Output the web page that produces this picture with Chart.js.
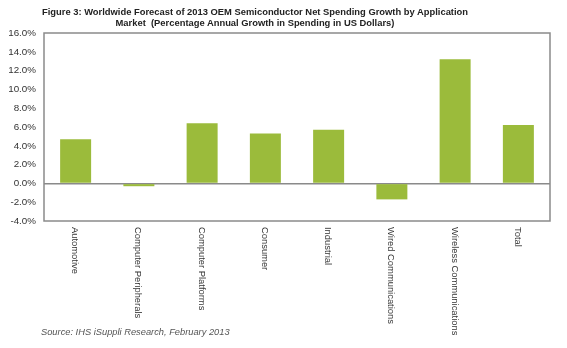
<!DOCTYPE html>
<html>
<head>
<meta charset="utf-8">
<script src="https://cdn.jsdelivr.net/npm/chart.js@4"></script>
<style>
  body { margin: 0; background: #fff; width: 567px; height: 348px; overflow: hidden;
         font-family: "Liberation Sans Narrow", "Liberation Sans", Arial, sans-serif; }
  #wrap { position: absolute; left: 0; top: 0; width: 567px; height: 348px; }
  #title { position: absolute; left: 0; width: 510px; top: 6px; text-align: center;
           font-weight: bold; font-size: 9.4px; line-height: 11px; color: #222; }
  #source { position: absolute; left: 41px; top: 327px; font-style: italic;
            font-size: 9.3px; color: #555; }
</style>
</head>
<body>
<div id="wrap"><canvas id="grafico"></canvas></div>
<div id="title">Figure 3: Worldwide Forecast of 2013 OEM Semiconductor Net Spending Growth by Application<br>Market&nbsp; (Percentage Annual Growth in Spending in US Dollars)</div>
<div id="source">Source: IHS iSuppli Research, February 2013</div>
<script>
const categorias = ["Automotive", "Computer Peripherals", "Computer Platforms", "Consumer",
  "Industrial", "Wired Communications", "Wireless Communications", "Total"];
const crescimento = [4.7, -0.3, 6.4, 5.3, 5.7, -1.7, 13.2, 6.2];
const eixoMin = -4;
const eixoMax = 16;
const eixoPasso = 2;

const verde = "rgb(155,187,59)";
const cinza = "#8a8a8a";
const fonte = "'Liberation Sans Narrow', 'Liberation Sans', Arial, sans-serif";

// moldura em volta da area do grafico
const moldura = {
  id: "moldura",
  afterDraw(chart) {
    const a = chart.chartArea;
    const ctx = chart.ctx;
    ctx.save();
    ctx.strokeStyle = cinza;
    ctx.lineWidth = 1.5;
    ctx.strokeRect(a.left, a.top, a.right - a.left, a.bottom - a.top);
    ctx.restore();
  }
};

// rotulos do eixo x, lidos de cima para baixo
const rotulosX = {
  id: "rotulosX",
  afterDraw(chart) {
    const ctx = chart.ctx;
    const x = chart.scales.x;
    ctx.save();
    ctx.fillStyle = "#333";
    ctx.font = "9.4px " + fonte;
    ctx.textAlign = "left";
    ctx.textBaseline = "middle";
    categorias.forEach((nome, i) => {
      ctx.save();
      ctx.translate(x.getPixelForValue(i) - 1, chart.chartArea.bottom + 6);
      ctx.rotate(Math.PI / 2);
      ctx.fillText(nome, 0, 0);
      ctx.restore();
    });
    ctx.restore();
  }
};

const dash = document.getElementById("grafico");

new Chart(dash, {
  type: "bar",
  data: {
    labels: categorias,
    datasets: [
      {
        data: crescimento,
        backgroundColor: verde,
        borderWidth: 0,
        categoryPercentage: 1,
        barPercentage: 0.49,
      },
    ],
  },
  options: {
    responsive: true,
    maintainAspectRatio: false,
    animation: false,
    layout: { padding: { top: 33, right: 17, bottom: 127, left: 0 } },
    plugins: { legend: { display: false }, tooltip: { enabled: false } },
    scales: {
      x: {
        ticks: { display: false },
        grid: { display: false, drawTicks: false },
        border: { display: false },
        afterFit: (s) => { s.height = 0; },
      },
      y: {
        min: eixoMin,
        max: eixoMax,
        ticks: {
          stepSize: eixoPasso,
          padding: 8,
          color: "#333",
          font: { family: fonte, size: 9.8 },
          callback: (v) => v.toFixed(1) + "%",
        },
        grid: {
          drawTicks: false,
          lineWidth: 1.5,
          color: (c) => (c.tick && c.tick.value === 0 ? cinza : "rgba(0,0,0,0)"),
        },
        border: { display: false },
        afterFit: (s) => { s.width = 44; },
      },
    },
  },
  plugins: [moldura, rotulosX],
});
</script>
</body>
</html>
